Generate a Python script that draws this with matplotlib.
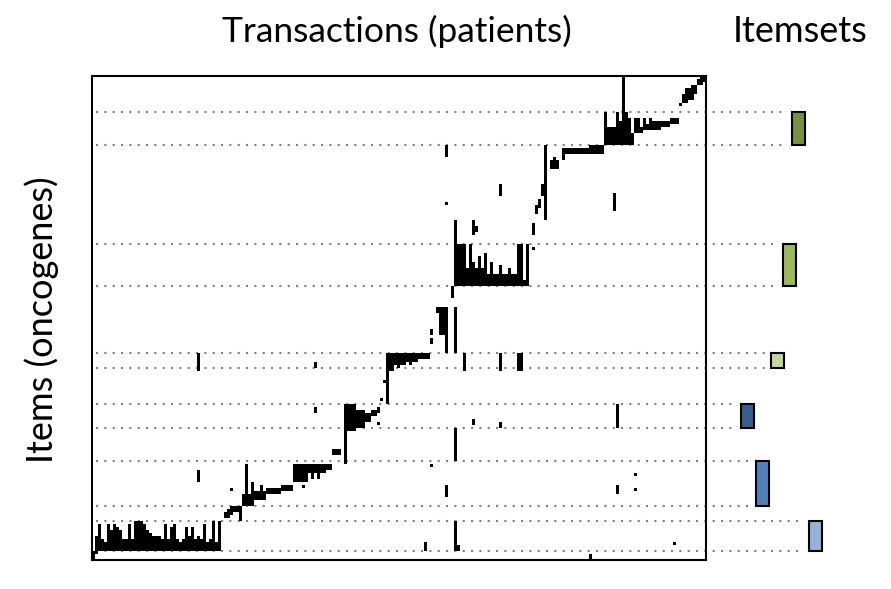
import numpy as np
import matplotlib.pyplot as plt
from matplotlib.patches import Rectangle

plt.rcParams['font.family'] = ['Lato', 'DejaVu Sans']

# Size of the binary matrix: transactions (columns) x items (rows)
n_trans = 205
n_items = 161

# Itemsets: first and last item row, position in the right panel, colour
itemset_top = [12, 56, 92, 109, 128, 148]
itemset_bottom = [23, 70, 97, 117, 143, 158]
itemset_x = [233.7, 230.7, 226.7, 216.7, 221.7, 239.3]
itemset_colors = ['#76923c', '#9bbb59', '#c3d69b', '#365f91', '#4f81bd', '#95b3d7']

# Bottom block (last itemset): top row of each transaction, columns 1..42
set6_first_col = 1
set6_tops = [153, 149, 154, 155, 149, 151, 149, 150, 152, 154, 154, 149, 154, 148,
             148, 148, 149, 151, 152, 153, 153, 153, 154, 149, 154, 150, 149, 154,
             155, 154, 150, 153, 150, 154, 153, 154, 149, 155, 154, 148, 155, 148]

# Other filled regions, as (first col, last col + 1, first row, last row + 1)
blocks_set6 = [(0, 1, 158, 161), (1, 2, 157, 159), (2, 43, 155, 158), (6, 10, 151, 158),
               (14, 18, 149, 158)]
blocks_set5 = [(44, 46, 145, 147), (45, 47, 144, 146),
               (46, 50, 143, 145), (49, 50, 143, 148), (51, 52, 129, 143), (50, 53, 139, 143),
               (53, 54, 135, 143), (56, 57, 136, 141), (54, 58, 138, 141), (58, 63, 137, 139),
               (63, 67, 136, 138), (67, 72, 129, 135), (72, 78, 129, 132), (73, 74, 129, 134),
               (75, 76, 129, 134), (78, 80, 129, 131), (70, 71, 136, 137), (80, 83, 124, 126),
               (84, 85, 117, 129)]
blocks_set4 = [(84, 88, 109, 118), (88, 91, 111, 117), (91, 93, 112, 115), (93, 95, 111, 113),
               (95, 96, 110, 112), (95, 96, 115, 116), (96, 97, 107, 108), (97, 98, 101, 102),
               (98, 99, 97, 109)]
blocks_set3 = [(98, 101, 92, 98), (101, 105, 92, 96), (102, 103, 92, 97), (105, 109, 92, 95),
               (106, 107, 92, 96), (109, 113, 92, 94), (113, 114, 84, 86), (113, 114, 87, 89),
               (115, 118, 77, 79), (116, 118, 79, 86), (118, 119, 77, 92), (121, 122, 77, 92),
               (120, 121, 70, 74)]
blocks_set2 = [(121, 122, 48, 70), (122, 125, 56, 70), (124, 131, 64, 70), (126, 127, 56, 70),
               (127, 128, 48, 53), (128, 129, 50, 52), (127, 128, 62, 70), (129, 130, 60, 70),
               (131, 132, 59, 70), (131, 143, 66, 70), (133, 134, 62, 70), (136, 137, 63, 70),
               (139, 140, 64, 70), (142, 144, 56, 70), (145, 146, 56, 70), (131, 146, 68, 70),
               (147, 148, 49, 53), (147, 148, 57, 58), (148, 149, 43, 46), (149, 150, 41, 44)]
blocks_set1 = [(151, 152, 23, 48), (153, 156, 28, 31), (154, 155, 27, 28), (150, 152, 36, 40),
               (157, 171, 24, 26), (157, 158, 24, 28), (166, 171, 23, 25), (171, 172, 12, 23),
               (172, 175, 17, 23), (175, 176, 12, 23), (176, 177, 15, 23), (177, 179, 12, 23),
               (179, 180, 14, 23), (171, 181, 19, 23), (177, 178, 0, 12), (181, 183, 14, 19),
               (183, 184, 17, 19), (184, 185, 14, 18), (185, 186, 16, 18), (186, 187, 14, 18),
               (187, 190, 15, 18), (190, 193, 15, 17), (193, 196, 14, 16), (196, 197, 9, 10),
               (197, 199, 6, 9), (198, 201, 4, 8), (200, 202, 3, 6), (202, 204, 1, 3),
               (203, 205, 0, 2)]
# Isolated items outside the itemset blocks
stray_marks = [(35, 36, 92, 98), (74, 75, 95, 97), (74, 75, 110, 112), (35, 36, 131, 135),
               (46, 47, 137, 138), (118, 119, 23, 27), (136, 137, 36, 40), (118, 119, 42, 43),
               (174, 175, 39, 45), (124, 125, 92, 98), (136, 137, 92, 98), (142, 144, 92, 98),
               (127, 128, 114, 116), (136, 137, 115, 117), (175, 176, 109, 117),
               (121, 122, 117, 128), (113, 114, 129, 130), (118, 119, 136, 140),
               (175, 176, 136, 139), (181, 182, 132, 133), (181, 182, 137, 138),
               (121, 122, 148, 158), (121, 123, 156, 158), (111, 112, 155, 158),
               (166, 167, 159, 161), (194, 195, 155, 156)]


# Build the binary matrix
mat = np.zeros((n_items, n_trans))
for i, top in enumerate(set6_tops):
    mat[top:158, set6_first_col + i] = 1
all_blocks = blocks_set6 + blocks_set5 + blocks_set4 + blocks_set3 + blocks_set2 + blocks_set1 + stray_marks
for c0, c1, r0, r1 in all_blocks:
    mat[r0:r1, c0:c1] = 1

fig = plt.figure(figsize=(8.91, 5.89), dpi=100)
ax = fig.add_axes([92/891, 1 - 560/589, 614/891, 484/589])

ax.imshow(np.ma.masked_equal(mat, 0), cmap='Greys', vmin=0, vmax=1,
          interpolation='nearest', aspect='auto', extent=(0, n_trans, n_items, 0), zorder=3)
ax.set_xlim(0, n_trans)
ax.set_ylim(n_items, 0)
ax.set_xticks([])
ax.set_yticks([])
for s in ax.spines.values():
    s.set_linewidth(1.5)

# dotted guide lines from the matrix to each itemset bar
for top, bot, x, col in zip(itemset_top, itemset_bottom, itemset_x, itemset_colors):
    for r in (top, bot):
        ax.plot([1.5, x - 2], [r, r], color='#808080', lw=1.5, linestyle=(0, (1, 3)),
                dash_capstyle='butt', clip_on=False, zorder=2)
    ax.add_patch(Rectangle((x, top), 4.4, bot - top, facecolor=col, edgecolor='black',
                           lw=1.5, clip_on=False, zorder=4))

fig.text(397/891, 1 - 31/589, 'Transactions (patients)', fontsize=25.5, ha='center', va='center')
fig.text(800/891, 1 - 31/589, 'Itemsets', fontsize=26, ha='center', va='center')
fig.text(42/891, 1 - 320/589, 'Items (oncogenes)', fontsize=26, ha='center', va='center',
         rotation=90)

fig.savefig('out.png', dpi=100)
